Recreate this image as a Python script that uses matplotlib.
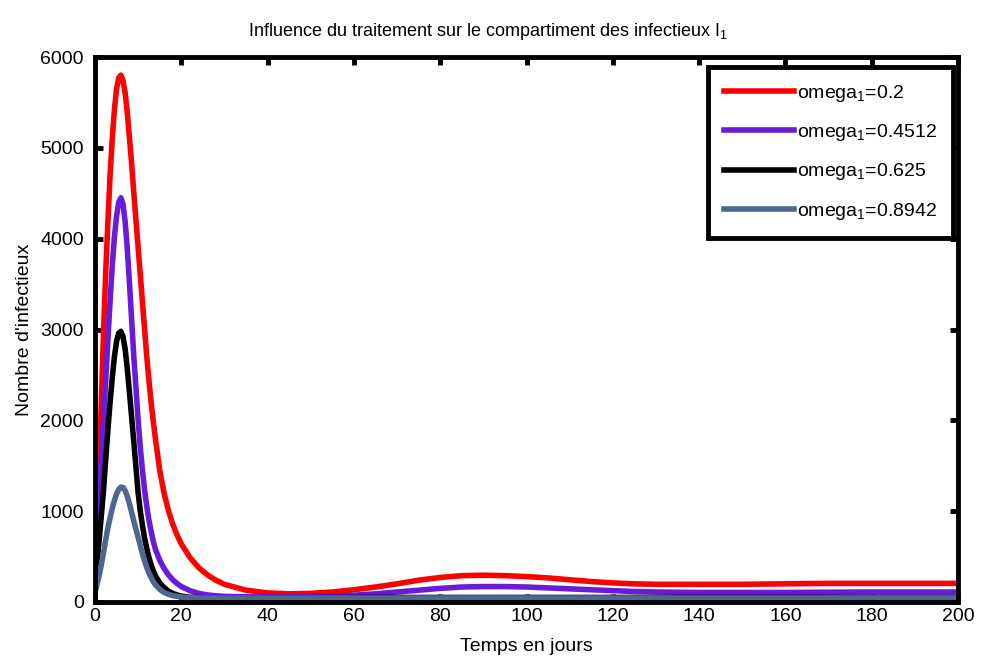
import matplotlib
matplotlib.use('Agg')
import matplotlib.pyplot as plt

plt.rcParams['font.family'] = ['Liberation Sans Narrow', 'Liberation Sans', 'DejaVu Sans']
plt.rcParams['mathtext.fontset'] = 'custom'
plt.rcParams['mathtext.rm'] = 'Liberation Sans'
plt.rcParams['mathtext.it'] = 'Liberation Sans'
plt.rcParams['mathtext.default'] = 'regular'

# time grid (days)
t = [0, 0.5, 1, 1.5, 2, 2.5, 3, 3.5, 4, 4.5, 5, 5.5, 6, 6.5, 7, 7.5, 8, 8.5,
     9, 9.5, 10, 10.5, 11, 11.5, 12, 12.5, 13, 13.5, 14, 15, 16, 17, 18, 19,
     20, 22, 24, 26, 28, 30, 35, 40, 45, 50, 55, 60, 65, 70, 75, 80, 85, 90,
     95, 100, 105, 110, 115, 120, 125, 130, 140, 150, 160, 170, 180, 190, 200]

# infectious I1 for each omega_1 value
i_02 = [300, 800, 1500, 2250, 3000, 3650, 4200, 4700, 5100, 5420, 5650, 5770,
        5800, 5740, 5600, 5380, 5100, 4820, 4500, 4200, 3900, 3600, 3300, 3000,
        2700, 2440, 2200, 1990, 1800, 1450, 1200, 1010, 860, 740, 640, 490,
        380, 300, 240, 195, 130, 100, 90, 95, 110, 135, 165, 200, 240, 270,
        290, 295, 290, 280, 265, 245, 225, 210, 200, 195, 195, 195, 200, 205,
        205, 205, 205]
i_04512 = [300, 700, 1200, 1600, 2000, 2450, 2900, 3320, 3700, 4020, 4250,
           4400, 4450, 4380, 4180, 3880, 3500, 3100, 2700, 2350, 2000, 1700,
           1450, 1230, 1050, 900, 780, 670, 580, 460, 370, 300, 245, 205, 170,
           125, 95, 78, 68, 62, 57, 55, 55, 60, 65, 75, 90, 110, 130, 150, 165,
           170, 170, 165, 155, 145, 135, 125, 115, 110, 105, 105, 105, 108,
           110, 110, 110]
i_0625 = [200, 450, 700, 970, 1250, 1580, 1900, 2200, 2470, 2700, 2870, 2960,
          2980, 2920, 2780, 2560, 2300, 2030, 1760, 1480, 1200, 1000, 840, 700,
          590, 490, 410, 345, 290, 210, 160, 120, 95, 78, 65, 52, 48, 47, 47,
          47, 47, 48, 48, 48, 49, 50, 50, 50, 50, 50, 50, 50, 50, 50, 50, 50,
          50, 50, 50, 50, 50, 50, 50, 50, 50, 50, 50]
i_08942 = [100, 200, 300, 420, 550, 690, 820, 930, 1030, 1120, 1190, 1240,
           1265, 1260, 1225, 1160, 1080, 985, 890, 800, 710, 620, 530, 450,
           380, 320, 270, 225, 190, 140, 105, 85, 70, 62, 55, 48, 45, 45, 45,
           45, 45, 45, 45, 45, 45, 45, 45, 45, 45, 45, 45, 45, 45, 45, 45, 45,
           45, 45, 45, 45, 45, 45, 45, 45, 45, 45, 45]

series = [i_02, i_04512, i_0625, i_08942]
labels = ['omega$_1$=0.2', 'omega$_1$=0.4512', 'omega$_1$=0.625', 'omega$_1$=0.8942']
colors = ['#ff0000', '#6a1bd8', '#000000', '#4f6592']

fig = plt.figure(figsize=(9.81, 6.6), dpi=100)
ax = fig.add_axes([95/981, 58/660, 863/981, 545/660])

for y, lab, c in zip(series, labels, colors):
    ax.plot(t, y, color=c, lw=4, label=lab, solid_joinstyle='round')

ax.set_xlim(0, 200)
ax.set_ylim(0, 6000)
ax.set_xticks(range(0, 201, 20))
ax.set_yticks(range(0, 6001, 1000))
ax.tick_params(direction='in', length=6, width=3.5, labelsize=14,
               top=True, right=True)
ax.tick_params(axis='y', pad=8)
ax.tick_params(axis='x', pad=4)
for s in ax.spines.values():
    s.set_linewidth(3.5)

ax.set_xlabel('Temps en jours', fontsize=14, labelpad=10)
ax.set_ylabel("Nombre d'infectieux", fontsize=14, labelpad=5)
fig.text(488/981, 1 - 32/660, 'Influence du traitement sur le compartiment des infectieux I$_1$',
         ha='center', va='center', fontsize=13)

leg = ax.legend(loc='upper right', bbox_to_anchor=(953/981, 1 - 67/660),
                bbox_transform=fig.transFigure, borderaxespad=0,
                fontsize=14, fancybox=False, handlelength=3.6,
                handletextpad=0.2, labelspacing=0.95, borderpad=0.8)
leg.get_frame().set_edgecolor('black')
leg.get_frame().set_linewidth(3.5)
leg.get_frame().set_alpha(1)

fig.savefig('out.png', dpi=100)
